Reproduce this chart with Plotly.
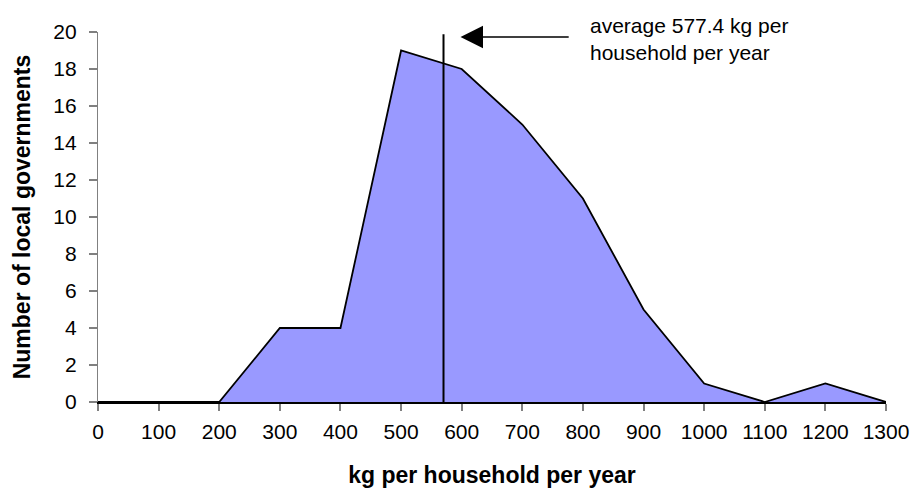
import plotly.graph_objects as go

kg_bins = [0, 100, 200, 300, 400, 500, 600, 700, 800, 900, 1000, 1100, 1200, 1300]
num_governments = [0, 0, 0, 4, 4, 19, 18, 15, 11, 5, 1, 0, 1, 0]
avg_value = 577.4
avg_line_x = 570
y_ticks = list(range(0, 21, 2))
x_ticks = list(range(0, 1301, 100))

FONT = "Liberation Sans, Arial"

fig = go.Figure()
fig.add_trace(go.Scatter(
    x=kg_bins, y=num_governments, mode="lines", fill="tozeroy",
    fillcolor="#9999FF", line=dict(color="black", width=1.8),
    showlegend=False, hoverinfo="x+y", cliponaxis=False))

fig.add_shape(type="line", xref="x", yref="y", x0=avg_line_x, x1=avg_line_x,
              y0=0, y1=19.88, line=dict(color="black", width=2))

fig.add_annotation(x=598, y=19.73, xref="x", yref="y", ax=779, ay=19.73,
                   axref="x", ayref="y", text="", showarrow=True,
                   arrowhead=2, arrowsize=3, arrowwidth=1.5, arrowcolor="black")
fig.add_annotation(x=809, y=1.055, xref="x", yref="paper", xanchor="left", yanchor="top",
                   text="average %.1f kg per<br>household per year" % avg_value,
                   showarrow=False, align="left",
                   font=dict(family=FONT, size=21, color="black"))

fig.update_layout(
    width=912, height=488, paper_bgcolor="white", plot_bgcolor="white",
    margin=dict(l=98, r=26, t=32, b=86, autoexpand=False),
    font=dict(family=FONT, size=21, color="black"),
    xaxis=dict(range=[0, 1300], tickvals=x_ticks, ticks="outside", ticklen=7,
               tickcolor="#808080", tickwidth=1.5, showgrid=False, zeroline=False,
               showline=True, linecolor="black", linewidth=2, automargin=False,
               tickfont=dict(size=21), ticklabelstandoff=3,
               title=dict(text="<b>kg per household per year</b>", standoff=30,
                          font=dict(size=23))),
    yaxis=dict(range=[0, 20], tickvals=y_ticks, ticks="outside", ticklen=8,
               tickcolor="#808080", tickwidth=1.5, showgrid=False, zeroline=False,
               showline=True, linecolor="#808080", linewidth=1.2, automargin=False,
               tickfont=dict(size=21), ticklabelstandoff=8,
               title=dict(text="<b>Number of local governments</b>", standoff=16,
                          font=dict(size=23))),
)

fig.write_html("out.html")
